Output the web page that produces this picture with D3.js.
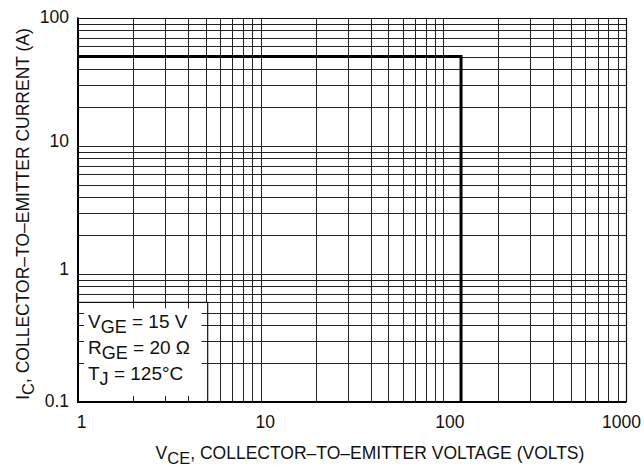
<!DOCTYPE html>
<html><head><meta charset="utf-8">
<script src="https://cdn.jsdelivr.net/npm/d3@7"></script>
<style>body{margin:0;background:#fff}svg{display:block}text{font-family:"Liberation Sans",Arial,sans-serif;fill:#111}</style>
</head><body><svg id="c" width="644" height="467"></svg>
<script>
// Data
const xTicks = [1, 10, 100, 1000];
const xTickLabels = ["1", "10", "100", "1000"];
const yTicks = [0.1, 1, 10, 100];
const yTickLabels = ["0.1", "1", "10", "100"];
const soaVoltage = [1, 125, 125];
const soaCurrent = [50, 50, 0.1];
const legendLines = [["V", "GE", " = 15 V"], ["R", "GE", " = 20 Ω"], ["T", "J", " = 125°C"]];

const svg = d3.select("#c");
const L = 78, R = 626, T = 18, B = 402;
const x = d3.scaleLog().domain([1, 1000]).range([L, R]);
const y = d3.scaleLog().domain([0.1, 100]).range([B, T]);

// grid values
const xGrid = [], yGrid = [];
for (let d = 1; d < 1000; d *= 10) for (let k = 1; k <= 9; k++) xGrid.push(d * k);
xGrid.push(1000);
for (let d = 0.1; d < 99; d *= 10) for (let k = 1; k <= 9; k++) yGrid.push(+(d * k).toPrecision(3));
yGrid.push(100);

const g = svg.append("g");
g.selectAll(".vx").data(xGrid).join("line")
  .attr("x1", d => Math.round(x(d)) + 0.5).attr("x2", d => Math.round(x(d)) + 0.5)
  .attr("y1", T).attr("y2", B).attr("stroke", "#222").attr("stroke-width", 1);
g.selectAll(".hy").data(yGrid).join("line")
  .attr("y1", d => Math.round(y(d)) + 0.5).attr("y2", d => Math.round(y(d)) + 0.5)
  .attr("x1", L).attr("x2", R).attr("stroke", "#222").attr("stroke-width", 1);

// legend box
const bx0 = x(1), bx1 = x(5) + 2, by0 = y(0.6), by1 = y(0.1);
svg.append("rect").attr("x", bx0).attr("y", by0).attr("width", bx1 - bx0).attr("height", by1 - by0)
  .attr("fill", "#fff").attr("stroke", "#111").attr("stroke-width", 1.2);
const stub = 6;
[2, 3, 4].forEach(v => {
  const xx = Math.round(x(v)) + 0.5;
  svg.append("line").attr("x1", xx).attr("x2", xx).attr("y1", by0).attr("y2", by0 + stub).attr("stroke", "#222");
  svg.append("line").attr("x1", xx).attr("x2", xx).attr("y1", by1 - stub).attr("y2", by1).attr("stroke", "#222");
});
[0.2, 0.3, 0.4, 0.5].forEach(v => {
  const yy = Math.round(y(v)) + 0.5;
  svg.append("line").attr("y1", yy).attr("y2", yy).attr("x1", bx0).attr("x2", bx0 + stub).attr("stroke", "#222");
  svg.append("line").attr("y1", yy).attr("y2", yy).attr("x1", bx1 - stub).attr("x2", bx1).attr("stroke", "#222");
});
legendLines.forEach((p, i) => {
  const t = svg.append("text").attr("x", 88).attr("y", 328 + i * 26).attr("font-size", 19);
  t.append("tspan").text(p[0]);
  t.append("tspan").attr("dy", 5).attr("font-size", 18).text(p[1]);
  t.append("tspan").attr("dy", -5).text(p[2]);
});

// axis lines (left, bottom heavy)
svg.append("line").attr("x1", L).attr("x2", L).attr("y1", T - 0.5).attr("y2", B + 1).attr("stroke", "#000").attr("stroke-width", 2);
svg.append("line").attr("x1", L - 1).attr("x2", R + 0.5).attr("y1", B).attr("y2", B).attr("stroke", "#000").attr("stroke-width", 2);
svg.append("line").attr("x1", L).attr("x2", R + 0.5).attr("y1", T + 0.5).attr("y2", T + 0.5).attr("stroke", "#111").attr("stroke-width", 1.2);
svg.append("line").attr("x1", R + 0.5).attr("x2", R + 0.5).attr("y1", T).attr("y2", B).attr("stroke", "#111").attr("stroke-width", 1.2);

// SOA boundary
const pts = soaVoltage.map((v, i) => [v, soaCurrent[i]]);
svg.append("path").datum(pts)
  .attr("d", d3.line().x(d => x(d[0])).y(d => y(d[1])))
  .attr("fill", "none").attr("stroke", "#000").attr("stroke-width", 3);

// axes labels via d3 axes
const xa = svg.append("g").attr("transform", `translate(0,${B + 11})`)
  .call(d3.axisBottom(x).tickValues(xTicks).tickFormat((d, i) => xTickLabels[i]).tickSize(0));
xa.select(".domain").remove();
xa.selectAll("text").attr("font-size", 17.5).attr("font-family", "Liberation Sans, Arial").attr("fill", "#111")
  .attr("dx", (d, i) => [3, 4, 6, -5][i]);
const ya = svg.append("g").attr("transform", `translate(${L - 6},0)`)
  .call(d3.axisLeft(y).tickValues(yTicks).tickFormat((d, i) => yTickLabels[i]).tickSize(0));
ya.select(".domain").remove();
ya.selectAll("text").attr("font-size", 17.5).attr("font-family", "Liberation Sans, Arial").attr("fill", "#111")
  .attr("dy", (d, i) => ["0.25em", "0.0em", "0.0em", "0.25em"][i]);

// Titles
const xt = svg.append("text").attr("x", 370).attr("y", 459).attr("text-anchor", "middle").attr("font-size", 17.5);
xt.append("tspan").text("V");
xt.append("tspan").attr("dy", 5).attr("font-size", 16.5).text("CE");
xt.append("tspan").attr("dy", -5).text(", COLLECTOR–TO–EMITTER VOLTAGE (VOLTS)");

const yt = svg.append("text").attr("transform", "translate(29,214) rotate(-90)").attr("text-anchor", "middle").attr("font-size", 17.5);
yt.append("tspan").text("I");
yt.append("tspan").attr("dy", 5).attr("font-size", 16.5).text("C");
yt.append("tspan").attr("dy", -5).text(", COLLECTOR–TO–EMITTER CURRENT (A)");
</script></body></html>
